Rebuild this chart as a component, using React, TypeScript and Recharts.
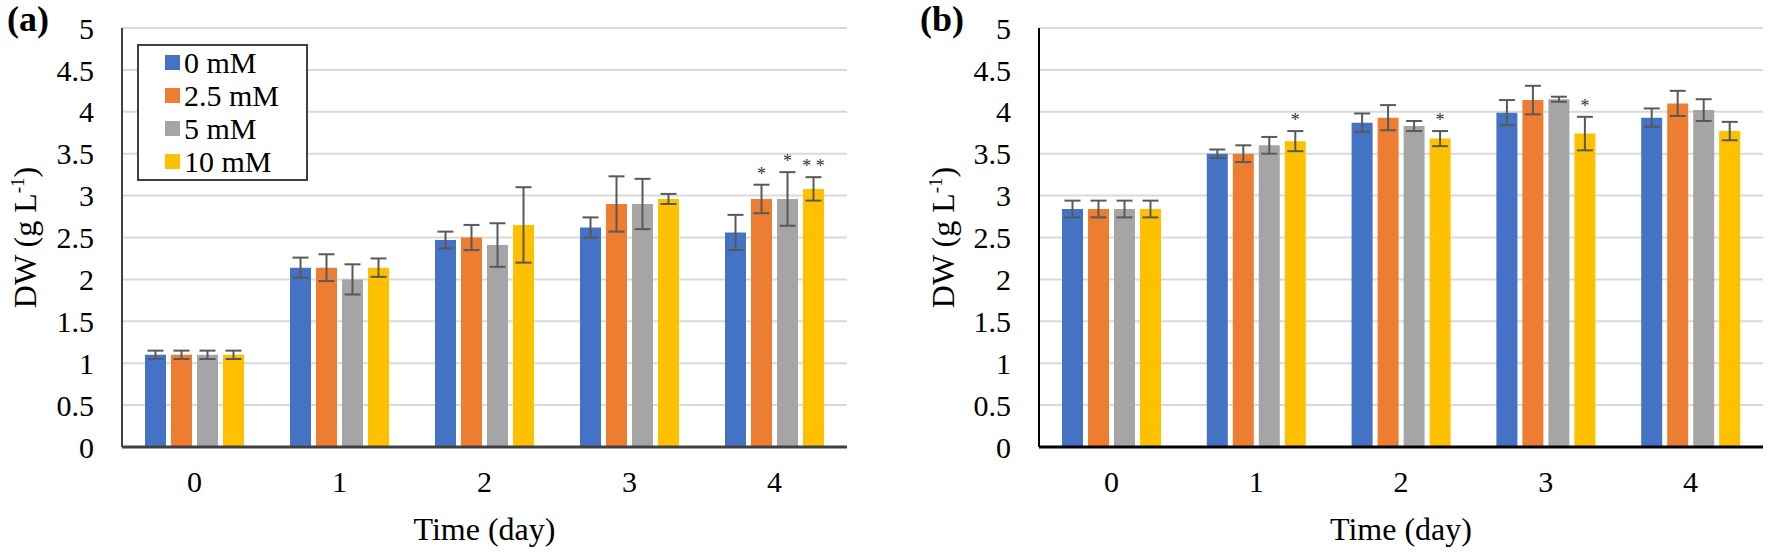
import React from 'react';
import { BarChart, Bar, XAxis, YAxis, CartesianGrid, ErrorBar, LabelList } from 'recharts';

const FONT = "'Liberation Serif', 'Times New Roman', serif";

const DAYS = ['0', '1', '2', '3', '4'];
const Y_TICKS = [0, 0.5, 1, 1.5, 2, 2.5, 3, 3.5, 4, 4.5, 5];
const SERIES_NAMES = ['0 mM', '2.5 mM', '5 mM', '10 mM'];
const SERIES_COLORS = ['#4472C4', '#ED7D31', '#A5A5A5', '#FFC000'];

// Panel (a)
const A_0 = [1.10, 2.14, 2.47, 2.62, 2.56];
const A_0_ERR = [0.05, 0.12, 0.10, 0.12, 0.21];
const A_25 = [1.10, 2.14, 2.50, 2.90, 2.96];
const A_25_ERR = [0.05, 0.16, 0.15, 0.33, 0.17];
const A_5 = [1.10, 2.00, 2.41, 2.90, 2.96];
const A_5_ERR = [0.05, 0.18, 0.26, 0.30, 0.32];
const A_10 = [1.10, 2.14, 2.65, 2.96, 3.08];
const A_10_ERR = [0.05, 0.11, 0.45, 0.06, 0.14];
const A_0_STAR = ['', '', '', '', ''];
const A_25_STAR = ['', '', '', '', '*'];
const A_5_STAR = ['', '', '', '', '*'];
const A_10_STAR = ['', '', '', '', '* *'];

// Panel (b)
const B_0 = [2.84, 3.50, 3.87, 3.99, 3.93];
const B_0_ERR = [0.10, 0.05, 0.11, 0.15, 0.11];
const B_25 = [2.84, 3.50, 3.93, 4.14, 4.10];
const B_25_ERR = [0.10, 0.10, 0.15, 0.17, 0.15];
const B_5 = [2.84, 3.60, 3.83, 4.15, 4.02];
const B_5_ERR = [0.10, 0.10, 0.06, 0.03, 0.13];
const B_10 = [2.84, 3.65, 3.68, 3.74, 3.77];
const B_10_ERR = [0.10, 0.12, 0.09, 0.20, 0.11];
const B_0_STAR = ['', '', '', '', ''];
const B_25_STAR = ['', '', '', '', ''];
const B_5_STAR = ['', '', '', '', ''];
const B_10_STAR = ['', '*', '*', '*', ''];

const build = (vals: number[][], errs: number[][], stars: string[][]) =>
  DAYS.map((d, i) => {
    const row: any = { day: d };
    vals.forEach((v, k) => {
      row['v' + k] = v[i];
      row['e' + k] = errs[k][i];
      row['s' + k] = stars[k][i];
    });
    return row;
  });

const dataA = build([A_0, A_25, A_5, A_10], [A_0_ERR, A_25_ERR, A_5_ERR, A_10_ERR], [A_0_STAR, A_25_STAR, A_5_STAR, A_10_STAR]);
const dataB = build([B_0, B_25, B_5, B_10], [B_0_ERR, B_25_ERR, B_5_ERR, B_10_ERR], [B_0_STAR, B_25_STAR, B_5_STAR, B_10_STAR]);

const makeStar = (data: any[], k: number) => (props: any) => {
  const { x, y, width, height, index, value } = props;
  if (!value) return null;
  const row = data[index];
  const val = row['v' + k];
  const err = row['e' + k];
  const top = Number(y) - (err * Number(height)) / val;
  return (
    <text x={Number(x) + Number(width) / 2} y={top - 5} textAnchor="middle" fontSize={18} fontFamily={FONT} fill="#333">
      {value}
    </text>
  );
};

const YTitle = (props: any) => {
  const vb = props.viewBox || {};
  const cy = vb.y !== undefined ? vb.y + vb.height / 2 : 237.5;
  return (
    <text transform={`translate(${props.cx},${cy}) rotate(-90)`} textAnchor="middle" fontSize={32} fontFamily={FONT} fill="#000">
      DW (g L<tspan dy={-12} fontSize={19}>-1</tspan><tspan dy={12}>)</tspan>
    </text>
  );
};

const Panel = ({ data, width, left, yWidth, right, border, titleX }: any) => (
  <div style={{ position: 'absolute', left, top: 0 }}>
    <BarChart width={width} height={555} data={data} margin={{ top: 28, right, bottom: 0, left: 0 }} barSize={21} barGap={5}>
      <CartesianGrid vertical={false} stroke="#d9d9d9" strokeWidth={2} />
      <XAxis
        dataKey="day"
        tickLine={false}
        tickSize={0}
        tickMargin={24}
        height={108}
        axisLine={{ stroke: border, strokeWidth: 3 }}
        tick={{ fontSize: 30, fill: '#000', fontFamily: FONT }}
        label={{ value: 'Time (day)', position: 'insideBottom', offset: 15, fontSize: 32, fill: '#000', fontFamily: FONT }}
      />
      <XAxis xAxisId="top" orientation="top" dataKey="day" height={0} tick={false} tickLine={false} axisLine={{ stroke: border, strokeWidth: 2 }} />
      <YAxis
        domain={[0, 5]}
        ticks={Y_TICKS}
        width={yWidth}
        tickLine={false}
        tickSize={0}
        tickMargin={28}
        axisLine={{ stroke: border, strokeWidth: 2 }}
        tick={{ fontSize: 30, fill: '#000', fontFamily: FONT }}
        label={<YTitle cx={titleX} />}
      />
      <YAxis yAxisId="right" orientation="right" width={0} domain={[0, 5]} ticks={Y_TICKS} tick={false} tickLine={false} axisLine={{ stroke: border, strokeWidth: 2 }} />
      {SERIES_COLORS.map((c, k) => (
        <Bar key={k} dataKey={'v' + k} name={SERIES_NAMES[k]} fill={c} isAnimationActive={false}>
          <ErrorBar dataKey={'e' + k} width={8} stroke="#595959" strokeWidth={2} />
          <LabelList dataKey={'s' + k} content={makeStar(data, k)} />
        </Bar>
      ))}
    </BarChart>
  </div>
);

const Legend = () => (
  <div
    style={{
      position: 'absolute',
      left: 137,
      top: 44,
      width: 171,
      height: 137,
      boxSizing: 'border-box',
      border: '2px solid #404040',
      background: '#fff',
      fontFamily: FONT,
      fontSize: 30,
      color: '#000',
    }}
  >
    {SERIES_NAMES.map((n, k) => (
      <div key={k} style={{ display: 'flex', alignItems: 'center', height: 33, paddingLeft: 26 }}>
        <span style={{ width: 15, height: 15, background: SERIES_COLORS[k], marginRight: 4, display: 'inline-block' }} />
        <span style={{ lineHeight: '33px', whiteSpace: 'nowrap' }}>{n}</span>
      </div>
    ))}
  </div>
);

const PanelLabel = ({ text, left }: any) => (
  <div style={{ position: 'absolute', left, top: 1, fontFamily: FONT, fontWeight: 'bold', fontSize: 36, lineHeight: '36px', color: '#000' }}>
    {text}
  </div>
);

export default function App() {
  return (
    <div style={{ position: 'absolute', left: 0, top: 0, width: 1770, height: 555, background: '#fff', overflow: 'hidden' }}>
      <Panel data={dataA} width={880} left={0} yWidth={122} right={33} border="#404040" titleX={36} />
      <Panel data={dataB} width={890} left={880} yWidth={159} right={7} border="#000" titleX={74} />
      <Legend />
      <PanelLabel text="(a)" left={7} />
      <PanelLabel text="(b)" left={920} />
    </div>
  );
}
